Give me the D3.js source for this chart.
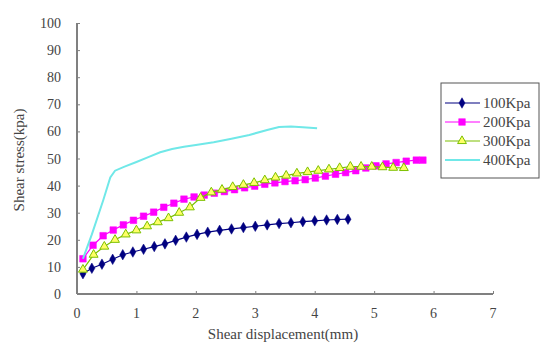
<!DOCTYPE html>
<html>
<head>
<meta charset="utf-8">
<script src="https://cdn.jsdelivr.net/npm/d3@7"></script>
<style>
  body { margin: 0; background: #fff; }
  svg { font-family: "Liberation Serif", "DejaVu Serif", serif; }
</style>
</head>
<body>
<div id="chart"></div>
<script>
const xTicks = [0, 1, 2, 3, 4, 5, 6, 7];
const yTicks = [0, 10, 20, 30, 40, 50, 60, 70, 80, 90, 100];
const seriesNames = ["100Kpa", "200Kpa", "300Kpa", "400Kpa"];

const x100 = [0.1, 0.25, 0.42, 0.6, 0.77, 0.94, 1.12, 1.3, 1.48, 1.66, 1.84, 2.02, 2.2, 2.4, 2.6, 2.8, 3.0, 3.2, 3.4, 3.6, 3.8, 4.0, 4.2, 4.38, 4.56];
const y100 = [7.5, 9.5, 11, 12.8, 14.5, 15.5, 16.5, 17.5, 18.5, 19.8, 21, 22, 22.8, 23.5, 24, 24.5, 25, 25.5, 26, 26.3, 26.7, 27, 27.3, 27.5, 27.6];

const x200 = [0.1, 0.27, 0.44, 0.61, 0.78, 0.95, 1.12, 1.29, 1.46, 1.63, 1.8, 1.97, 2.14, 2.31, 2.48, 2.65, 2.82, 2.99, 3.16, 3.33, 3.5, 3.67, 3.84, 4.01, 4.18, 4.35, 4.52, 4.69, 4.86, 5.03, 5.2, 5.37, 5.54, 5.71, 5.82];
const y200 = [13, 18, 21.5, 23.6, 25.5, 27.2, 28.7, 30.2, 32, 33.5, 35, 35.8, 36.5, 37.2, 37.8, 38.5, 39.2, 39.8, 40.5, 41, 41.5, 41.8, 42.2, 42.8, 43.5, 44.2, 44.8, 45.5, 46.5, 47.3, 48, 48.5, 49, 49.4, 49.4];

const x300 = [0.1, 0.28, 0.46, 0.64, 0.82, 1.0, 1.18, 1.36, 1.54, 1.72, 1.9, 2.08, 2.26, 2.44, 2.62, 2.8, 2.98, 3.16, 3.34, 3.52, 3.7, 3.88, 4.06, 4.24, 4.42, 4.6, 4.78, 4.96, 5.14, 5.32, 5.5];
const y300 = [9, 14.5, 17.5, 20, 22, 23.5, 25, 26.5, 28, 30, 32, 35.5, 37.5, 38.5, 39.5, 40.3, 41, 42, 43, 43.7, 44.5, 45, 45.5, 46, 46.5, 47, 47, 47, 46.8, 46.6, 46.5];

const x400 = [0.1, 0.25, 0.44, 0.56, 0.64, 0.8, 1.0, 1.2, 1.4, 1.6, 1.8, 2.0, 2.3, 2.6, 2.9, 3.2, 3.4, 3.6, 3.8, 4.04];
const y400 = [13, 22, 34.5, 43, 45.5, 47, 48.7, 50.5, 52.3, 53.5, 54.3, 55, 56, 57.3, 58.7, 60.5, 61.6, 61.8, 61.5, 61.2];

const series = [
  { name: seriesNames[0], xs: x100, ys: y100, color: "#000080", marker: "diamond", fill: "#000080", width: 1.2 },
  { name: seriesNames[1], xs: x200, ys: y200, color: "#ff00ff", marker: "square", fill: "#ff00ff", width: 1.2 },
  { name: seriesNames[2], xs: x300, ys: y300, color: "#7cc000", marker: "triangle", fill: "#ffff66", width: 1.2 },
  { name: seriesNames[3], xs: x400, ys: y400, color: "#70e8e8", marker: null, fill: "none", width: 2 }
];

const W = 541, H = 344;
const svg = d3.select("#chart").append("svg").attr("width", W).attr("height", H);

const x = d3.scaleLinear().domain([0, 7]).range([77, 493]);
const y = d3.scaleLinear().domain([0, 100]).range([294, 23]);

const axisColor = "#808080";
const textColor = "#444";

// y axis
const yAxis = svg.append("g")
  .attr("transform", `translate(${x(0)},0)`)
  .call(d3.axisRight(y).tickValues(yTicks).tickSize(3).tickFormat(""));
yAxis.select(".domain").attr("stroke", axisColor).attr("stroke-width", 2).attr("d", `M0,${y(100)}V${y(0)}`);
yAxis.selectAll(".tick line").attr("stroke", axisColor);

svg.append("g").selectAll("text")
  .data(yTicks)
  .join("text")
  .attr("x", 61)
  .attr("y", d => y(d) + 5)
  .attr("text-anchor", "end")
  .attr("font-size", 14)
  .attr("fill", textColor)
  .text(d => d);

// x axis
const xAxis = svg.append("g")
  .attr("transform", `translate(0,${y(0)})`)
  .call(d3.axisTop(x).tickValues(xTicks).tickSize(3).tickFormat(""));
xAxis.select(".domain").attr("stroke", axisColor).attr("stroke-width", 2).attr("d", `M${x(0)},0H${x(7)}`);
xAxis.selectAll(".tick line").attr("stroke", axisColor);

svg.append("g").selectAll("text")
  .data(xTicks)
  .join("text")
  .attr("x", d => x(d))
  .attr("y", 318)
  .attr("text-anchor", "middle")
  .attr("font-size", 14)
  .attr("fill", textColor)
  .text(d => d);

// axis titles
svg.append("text")
  .attr("x", 283)
  .attr("y", 339)
  .attr("text-anchor", "middle")
  .attr("font-size", 15)
  .attr("fill", textColor)
  .text("Shear displacement(mm)");

svg.append("text")
  .attr("transform", `translate(24,160) rotate(-90)`)
  .attr("text-anchor", "middle")
  .attr("font-size", 15)
  .attr("fill", textColor)
  .text("Shear stress(kpa)");

const symbolOf = m => m === "diamond" ? d3.symbolDiamond : m === "square" ? d3.symbolSquare : d3.symbolTriangle;
const sizeOf = m => m === "diamond" ? 32 : m === "square" ? 44 : 34;

const line = d3.line();

series.forEach(s => {
  const pts = s.xs.map((v, i) => [x(v), y(s.ys[i])]);
  svg.append("path")
    .attr("d", line(pts))
    .attr("fill", "none")
    .attr("stroke", s.color)
    .attr("stroke-width", s.width);
  if (s.marker) {
    svg.append("g").selectAll("path")
      .data(pts)
      .join("path")
      .attr("transform", d => `translate(${d[0]},${d[1]})`)
      .attr("d", d3.symbol(symbolOf(s.marker), sizeOf(s.marker)))
      .attr("fill", s.fill)
      .attr("stroke", s.color)
      .attr("stroke-width", s.marker === "triangle" ? 1 : 0.5);
  }
});

// legend
const lg = svg.append("g");
lg.append("rect")
  .attr("x", 441).attr("y", 83).attr("width", 98).attr("height", 95)
  .attr("fill", "#fff").attr("stroke", "#555").attr("stroke-width", 1);

const legendY = d3.scalePoint().domain(seriesNames).range([103, 160]);
series.forEach(s => {
  const ly = legendY(s.name);
  lg.append("line")
    .attr("x1", 445).attr("x2", 480).attr("y1", ly).attr("y2", ly)
    .attr("stroke", s.color).attr("stroke-width", s.width);
  if (s.marker) {
    lg.append("path")
      .attr("transform", `translate(462,${ly})`)
      .attr("d", d3.symbol(symbolOf(s.marker), sizeOf(s.marker))())
      .attr("fill", s.fill)
      .attr("stroke", s.color)
      .attr("stroke-width", s.marker === "triangle" ? 1 : 0.5);
  }
  lg.append("text")
    .attr("x", 483).attr("y", ly + 5)
    .attr("font-size", 15)
    .attr("fill", textColor)
    .text(s.name);
});
</script>
</body>
</html>
